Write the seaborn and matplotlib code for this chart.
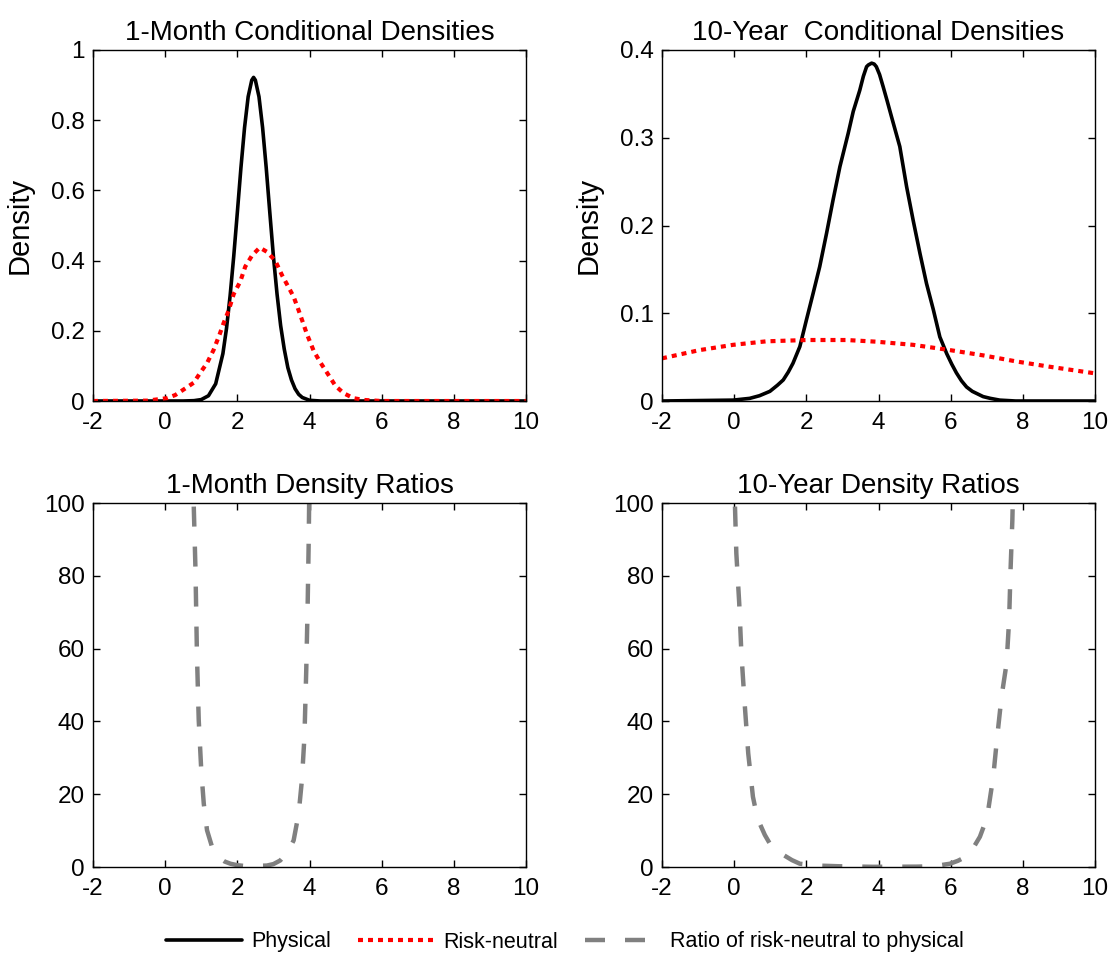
import matplotlib
matplotlib.use("Agg")
import matplotlib.pyplot as plt
import seaborn as sns
import pandas as pd
from matplotlib.lines import Line2D

# ---------------- data ----------------
# 1-month physical density
m_phys_x = [-2.0, 0.5, 0.8, 1.0, 1.2, 1.4, 1.6, 1.7, 1.8, 1.9, 2.0, 2.1, 2.2, 2.3, 2.4, 2.45,
            2.5, 2.6, 2.7, 2.8, 2.9, 3.0, 3.1, 3.2, 3.3, 3.4, 3.5, 3.6, 3.7, 3.8, 4.0, 4.3, 10.0]
m_phys_y = [0.0, 0.0, 0.001, 0.004, 0.015, 0.049, 0.135, 0.207, 0.300, 0.412, 0.537, 0.665, 0.779, 0.867, 0.914, 0.922,
            0.914, 0.867, 0.779, 0.665, 0.537, 0.412, 0.305, 0.215, 0.148, 0.095, 0.060, 0.035, 0.019, 0.010, 0.002, 0.0, 0.0]
# 1-month risk-neutral density
m_rn_x = [-2.0, -0.5, 0.05, 0.28, 0.56, 0.79, 0.97, 1.16, 1.34, 1.51, 1.62, 1.76, 1.9, 2.08, 2.22, 2.41,
          2.62, 2.82, 3.05, 3.24, 3.42, 3.56, 3.70, 3.84, 3.93, 4.12, 4.30, 4.49, 4.72, 4.95, 5.22, 5.5, 6.0, 10.0]
m_rn_y = [0.0, 0.001, 0.008, 0.017, 0.036, 0.052, 0.080, 0.108, 0.145, 0.190, 0.222, 0.258, 0.305, 0.340, 0.383, 0.415,
          0.437, 0.425, 0.400, 0.358, 0.324, 0.297, 0.258, 0.217, 0.190, 0.142, 0.110, 0.080, 0.043, 0.022, 0.008, 0.003, 0.0, 0.0]
# 10-year physical density
y_phys_x = [-2.0, -0.03, 0.43, 0.7, 0.99, 1.2, 1.36, 1.5, 1.63, 1.82, 2.0, 2.19, 2.37, 2.56, 2.74, 2.93, 3.16, 3.3,
            3.48, 3.58, 3.67, 3.72, 3.81, 3.88, 3.94, 4.03, 4.13, 4.24, 4.36, 4.59, 4.78, 4.96, 5.15, 5.33, 5.52,
            5.7, 5.89, 6.03, 6.16, 6.3, 6.44, 6.6, 6.9, 7.1, 7.36, 7.8, 10.0]
y_phys_y = [0.0, 0.001, 0.003, 0.006, 0.011, 0.018, 0.024, 0.033, 0.043, 0.062, 0.092, 0.123, 0.153, 0.191, 0.229, 0.267, 0.305, 0.330,
            0.354, 0.370, 0.381, 0.383, 0.385, 0.384, 0.381, 0.372, 0.358, 0.342, 0.324, 0.290, 0.244, 0.206, 0.168, 0.134, 0.104,
            0.073, 0.054, 0.042, 0.032, 0.023, 0.016, 0.011, 0.005, 0.003, 0.001, 0.0, 0.0]
# 10-year risk-neutral density
y_rn_x = [-2.0, -0.96, -0.03, 0.89, 2.0, 3.11, 3.94, 4.96, 5.98, 6.9, 7.83, 8.75, 10.0]
y_rn_y = [0.0486, 0.058, 0.064, 0.068, 0.0695, 0.0695, 0.0676, 0.064, 0.058, 0.052, 0.045, 0.039, 0.0315]
# 1-month ratio risk-neutral / physical
m_ratio_x = [0.77, 0.79, 0.84, 0.88, 0.93, 1.0, 1.07, 1.16, 1.3, 1.4, 1.53, 1.65, 1.81, 2.0, 2.18, 2.5, 2.82, 3.0,
             3.19, 3.4, 3.56, 3.70, 3.79, 3.86, 3.91, 3.95, 3.98, 3.99, 4.0]
m_ratio_y = [110, 100, 81.7, 58.7, 40.4, 26.6, 17.4, 10.1, 5.5, 3.9, 2.3, 1.5, 0.9, 0.5, 0.3, 0.3, 0.4, 0.8,
             1.8, 4.2, 7.3, 14.7, 23.9, 35.8, 54.1, 72.5, 90.8, 100, 110]
# 10-year ratio risk-neutral / physical
y_ratio_x = [0.0, 0.02, 0.06, 0.14, 0.2, 0.29, 0.39, 0.52, 0.6, 0.71, 0.85, 0.99, 1.2, 1.45, 1.6, 1.82, 2.28, 2.93,
             3.85, 5.05, 5.52, 5.98, 6.2, 6.44, 6.6, 6.81, 6.93, 7.04, 7.18, 7.29, 7.41, 7.55, 7.62, 7.66, 7.71, 7.72, 7.74]
y_ratio_y = [110, 100, 86.2, 72.5, 58.7, 45.0, 31.2, 19.3, 15.5, 11.9, 8.8, 6.4, 4.3, 2.8, 1.9, 0.9, 0.4, 0.2,
             0.05, 0.1, 0.2, 0.9, 1.7, 2.9, 4.8, 8.3, 11.5, 15.6, 24.8, 35.8, 46.8, 56.0, 67.9, 81.7, 95.4, 100, 110]

titles = ["1-Month Conditional Densities", "10-Year  Conditional Densities",
          "1-Month Density Ratios", "10-Year Density Ratios"]
x_ticks = [-2, 0, 2, 4, 6, 8, 10]
x_tick_labels = ["-2", "0", "2", "4", "6", "8", "10"]
y_ticks_1m = [0, 0.2, 0.4, 0.6, 0.8, 1.0]
y_tick_labels_1m = ["0", "0.2", "0.4", "0.6", "0.8", "1"]
y_ticks_10y = [0, 0.1, 0.2, 0.3, 0.4]
y_tick_labels_10y = ["0", "0.1", "0.2", "0.3", "0.4"]
y_ticks_ratio = [0, 20, 40, 60, 80, 100]
y_tick_labels_ratio = ["0", "20", "40", "60", "80", "100"]
legend_labels = ["Physical", "Risk-neutral", "Ratio of risk-neutral to physical"]

# ---------------- style ----------------
sns.set_theme(style="white")
plt.rcParams["font.family"] = ["Liberation Sans", "DejaVu Sans"]

BLACK_KW = dict(color="black", linewidth=2.6)
RED_KW = dict(color="#ff0000", linewidth=3.0, linestyle=(0, (1.2, 1.2)))
GRAY_KW = dict(color="#808080", linewidth=3.2, linestyle=(0, (4.5, 4.5)))

fig = plt.figure(figsize=(11.11, 9.56), dpi=100)
W, H = 1111, 956
def add_ax(l, t, r, b):
    return fig.add_axes([l / W, 1 - b / H, (r - l) / W, (b - t) / H])

ax_tl = add_ax(93, 50, 526, 401)
ax_tr = add_ax(662, 50, 1095, 401)
ax_bl = add_ax(93, 503, 526, 867)
ax_br = add_ax(662, 503, 1095, 867)

def draw(ax, x, y, kw):
    df = pd.DataFrame({"x": x, "y": y})
    sns.lineplot(data=df, x="x", y="y", ax=ax, sort=False, estimator=None, **kw)

draw(ax_tl, m_phys_x, m_phys_y, BLACK_KW)
draw(ax_tl, m_rn_x, m_rn_y, RED_KW)
draw(ax_tr, y_phys_x, y_phys_y, BLACK_KW)
draw(ax_tr, y_rn_x, y_rn_y, RED_KW)
draw(ax_bl, m_ratio_x, m_ratio_y, GRAY_KW)
draw(ax_br, y_ratio_x, y_ratio_y, GRAY_KW)

axes = [ax_tl, ax_tr, ax_bl, ax_br]
yt = [(y_ticks_1m, y_tick_labels_1m, (0, 1)),
      (y_ticks_10y, y_tick_labels_10y, (0, 0.4)),
      (y_ticks_ratio, y_tick_labels_ratio, (0, 100)),
      (y_ticks_ratio, y_tick_labels_ratio, (0, 100))]

for ax, title, (ticks, labels, lim) in zip(axes, titles, yt):
    ax.set_xlim(-2, 10)
    ax.set_ylim(*lim)
    ax.set_xticks(x_ticks)
    ax.set_xticklabels(x_tick_labels)
    ax.set_yticks(ticks)
    ax.set_yticklabels(labels)
    ax.set_title(title, fontsize=20, pad=7, color="black")
    ax.set_xlabel("")
    ax.set_ylabel("")
    for s in ax.spines.values():
        s.set_visible(True)
        s.set_color("black")
        s.set_linewidth(1.0)
    ax.tick_params(direction="in", length=5, width=1, top=True, right=True,
                   bottom=True, left=True, labelsize=17.5, colors="black", pad=6)
    ax.tick_params(axis="x", pad=8)
    ax.set_facecolor("white")

for ax in (ax_tl, ax_tr):
    ax.set_ylabel("Density", fontsize=21, color="black")
    ax.yaxis.set_label_coords(-0.138, 0.5)

handles = [Line2D([], [], **BLACK_KW), Line2D([], [], **RED_KW), Line2D([], [], **GRAY_KW)]
fig.legend(handles, legend_labels, loc="center", bbox_to_anchor=(565 / W, 1 - 942 / H),
           ncol=3, frameon=False, handlelength=3.5, handletextpad=0.45, columnspacing=1.25,
           labelcolor="black",
           prop={"family": ["Liberation Sans", "DejaVu Sans"], "size": 15.5})

fig.savefig("out.png", dpi=100, facecolor="white")
